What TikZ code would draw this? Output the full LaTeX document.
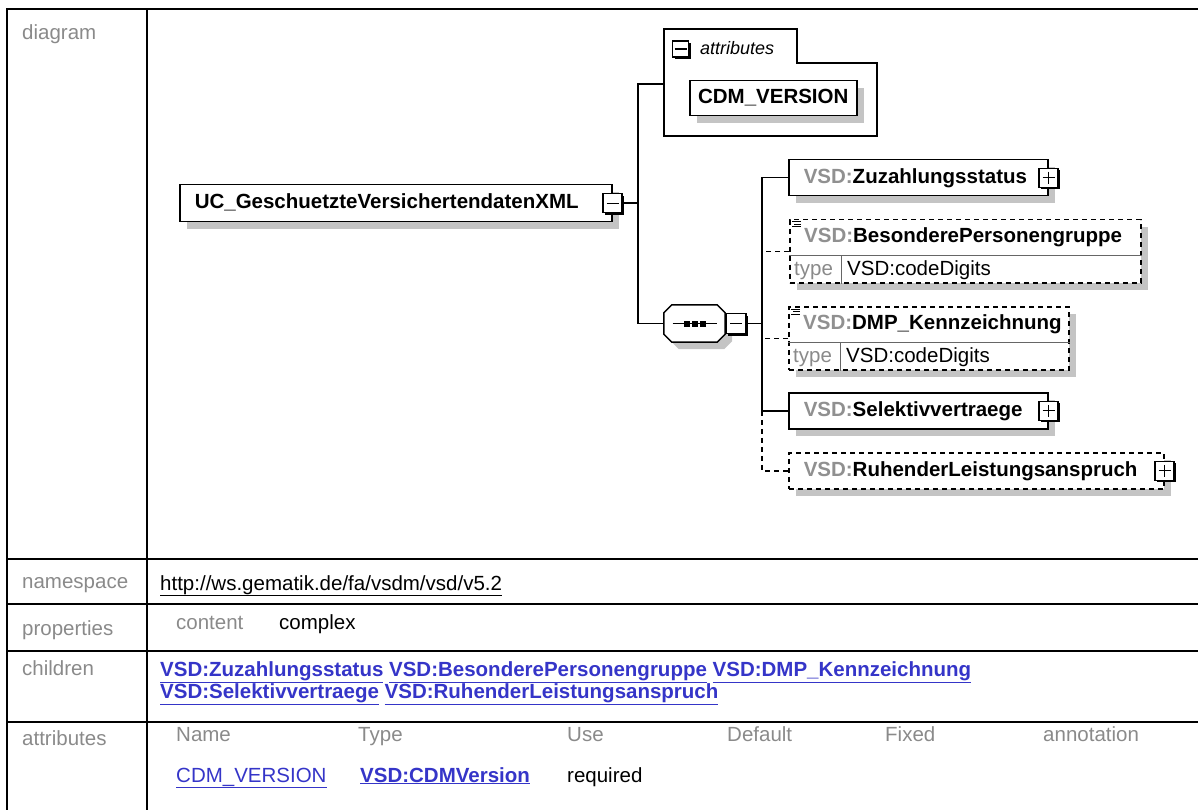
\documentclass[tikz,border=0pt]{standalone}
\usepackage{fontspec}
\setmainfont{Liberation Sans}
\usetikzlibrary{calc,shadows}

\definecolor{lblgray}{HTML}{8A8A8A}
\definecolor{nsgray}{HTML}{909090}
\definecolor{linkblue}{HTML}{3535C8}
\definecolor{shadegray}{HTML}{C4C4C4}

\newcommand{\diagfont}{\fontsize{20.5}{24}\selectfont\bfseries}
\newcommand{\tabfont}{\fontsize{20.5}{24}\selectfont}
\newcommand{\vsd}{\textcolor{nsgray}{VSD:}}
\newcommand{\blink}[1]{\textcolor{linkblue}{\bfseries\underline{#1}}}

\tikzset{
  elem/.style={draw, line width=1.5pt, fill=white, anchor=north west, inner sep=0pt,
    text height=15pt, text depth=4pt,
    font=\diagfont, drop shadow={shadow xshift=7pt, shadow yshift=-7pt, fill=shadegray, opacity=1}},
  optelem/.style={elem, dash pattern=on 5pt off 4pt},
  conn/.style={line width=1.5pt},
  optconn/.style={line width=1.5pt, dash pattern=on 5pt off 4pt},
  pmbox/.style={draw, fill=white, line width=1.2pt, minimum size=19pt, inner sep=0pt,
    drop shadow={shadow xshift=2pt, shadow yshift=-2pt, fill=black, opacity=1}},
  minusbox/.style={pmbox, path picture={
    \draw[line width=1.2pt] ($(path picture bounding box.center)+(-6,0)$) -- ($(path picture bounding box.center)+(6,0)$);}},
  plusbox/.style={pmbox, path picture={
    \draw[line width=1.2pt] ($(path picture bounding box.center)+(-6,0)$) -- ($(path picture bounding box.center)+(6,0)$)
      ($(path picture bounding box.center)+(0,-6)$) -- ($(path picture bounding box.center)+(0,6)$);}},
  rowlabel/.style={anchor=base west, font=\tabfont, text=lblgray, inner sep=0pt},
  cell/.style={anchor=base west, font=\tabfont, inner sep=0pt},
  tabline/.style={line width=2.2pt},
  sepline/.style={line width=1pt, draw=black!60},
}

\begin{document}
\begin{tikzpicture}[x=1pt, y=-1pt]
\useasboundingbox (0,0) rectangle (1198,810);

% table frame
\draw[tabline] (1198,9) -- (7,9) -- (7,810);
\draw[tabline] (147,9) -- (147,810);
\draw[tabline] (7,559) -- (1198,559);
\draw[tabline] (7,604) -- (1198,604);
\draw[tabline] (7,651) -- (1198,651);
\draw[tabline] (7,722) -- (1198,722);

\node[rowlabel] (lbldiag) at (22,40) {diagram};
\node[rowlabel] (lblns) at (22,588) {namespace};
\node[rowlabel] (lblprop) at (22,635) {properties};
\node[rowlabel] (lblchild) at (22,675) {children};
\node[rowlabel] (lblattr) at (22,745) {attributes};

% diagram
\node[elem, minimum height=37pt, text width=402pt, inner xsep=15pt, align=left] (root) at (179,184) {UC\_GeschuetzteVersichertendatenXML};
\node[minusbox] (rootpm) at (root.east) {};

\draw[line width=1.5pt] (664,136) -- (664,29) -- (797,29) -- (797,63) -- (877,63) -- (877,136) -- cycle;
\coordinate (attrin) at (664,84);
\node[minusbox, minimum size=16pt] (attrpm) at (680.5,49) {};
\node[anchor=west, font=\fontsize{18}{20}\selectfont\itshape, inner sep=0pt] (attrlbl) at (700,48) {attributes};
\node[elem, minimum width=167pt, minimum height=35pt] (cdm) at (689,80) {CDM\_VERSION};

% sequence compositor
\node[minimum width=61pt, minimum height=37pt, inner sep=0pt] (seq) at (694.5,323.5) {};
\draw[line width=1.5pt, fill=white, drop shadow={shadow xshift=7pt, shadow yshift=-7pt, fill=shadegray, opacity=1}]
  ($(seq.north west)+(0,8)$) -- ($(seq.north west)+(8,0)$) -- ($(seq.north east)+(-8,0)$) -- ($(seq.north east)+(0,8)$)
  -- ($(seq.south east)+(0,-8)$) -- ($(seq.south east)+(-8,0)$) -- ($(seq.south west)+(8,0)$) -- ($(seq.south west)+(0,-8)$) -- cycle;
\draw[line width=1.2pt] ($(seq.center)+(-22,0)$) -- ($(seq.center)+(22,0)$);
\foreach \dx in {-8,0,8}
  \fill ($(seq.center)+(\dx-3,-3)$) rectangle ($(seq.center)+(\dx+3,3)$);
\node[minusbox, minimum size=20pt] (seqpm) at (736,323.5) {};

\node[elem, minimum height=36pt, text width=229pt, inner xsep=15pt, align=left] (zuz) at (788,159) {\vsd Zuzahlungsstatus};
\node[plusbox] (zuzpm) at (zuz.east) {};

\node[optelem, minimum width=351pt, minimum height=63pt] (bes) at (789,219) {};
\node[anchor=west, font=\diagfont, inner sep=0pt] (besname) at ($(bes.north west)+(15,18)$) {\vsd BesonderePersonengruppe};
\draw[sepline] ($(bes.north west)+(0,36)$) -- ($(bes.north east)+(0,36)$);
\draw[sepline] ($(bes.north west)+(52,36)$) -- ($(bes.south west)+(52,0)$);
\node[anchor=west, font=\tabfont, text=lblgray, inner sep=0pt] (bestype) at ($(bes.south west)+(5,-13)$) {type};
\node[anchor=west, font=\tabfont, inner sep=0pt] (besval) at ($(bes.south west)+(58,-13)$) {VSD:codeDigits};
\draw[line width=1pt] ($(bes.north west)+(3,3)$) -- +(9,0) ($(bes.north west)+(5,5.5)$) -- +(7,0) ($(bes.north west)+(3,8)$) -- +(9,0);

\node[optelem, minimum width=280pt, minimum height=63pt] (dmp) at (788,306) {};
\node[anchor=west, font=\diagfont, inner sep=0pt] (dmpname) at ($(dmp.north west)+(15,18)$) {\vsd DMP\_Kennzeichnung};
\draw[sepline] ($(dmp.north west)+(0,36)$) -- ($(dmp.north east)+(0,36)$);
\draw[sepline] ($(dmp.north west)+(52,36)$) -- ($(dmp.south west)+(52,0)$);
\node[anchor=west, font=\tabfont, text=lblgray, inner sep=0pt] (dmptype) at ($(dmp.south west)+(5,-13)$) {type};
\node[anchor=west, font=\tabfont, inner sep=0pt] (dmpval) at ($(dmp.south west)+(58,-13)$) {VSD:codeDigits};
\draw[line width=1pt] ($(dmp.north west)+(3,3)$) -- +(9,0) ($(dmp.north west)+(5,5.5)$) -- +(7,0) ($(dmp.north west)+(3,8)$) -- +(9,0);

\node[elem, minimum height=36pt, text width=229pt, inner xsep=15pt, align=left] (sel) at (788,392) {\vsd Selektivvertraege};
\node[plusbox] (selpm) at (sel.east) {};

\node[optelem, minimum height=36pt, text width=345pt, inner xsep=15pt, align=left] (ruh) at (788,452) {\vsd RuhenderLeistungsanspruch};
\node[plusbox] (ruhpm) at (ruh.east) {};

% connectors
\draw[conn] (attrin) -- ++(-26,0) coordinate (b1top) -- (b1top |- seq.west) -- (seq.west);
\draw[conn] (rootpm.east) -- (rootpm.east -| b1top);
\draw[conn] (zuz.west) -- ++(-26,0) coordinate (b2top) -- (b2top |- sel.west) -- (sel.west);
\draw[conn] (seqpm.east) -- (seqpm.east -| b2top);
\draw[optconn] (bes.west) -- (bes.west -| b2top);
\draw[optconn] (dmp.west) -- (dmp.west -| b2top);
\draw[optconn] (b2top |- sel.west) |- (ruh.west);

% table rows
\node[cell] (nsval) at (160,590) {\underline{http://ws.gematik.de/fa/vsdm/vsd/v5.2}};
\node[cell, text=lblgray] (propkey) at (176,629) {content};
\node[cell] (propval) at (279,629) {complex};
\node[cell] (childa) at (160,676) {\blink{VSD:Zuzahlungsstatus} \blink{VSD:BesonderePersonengruppe} \blink{VSD:DMP\_Kennzeichnung}};
\node[cell] (childb) at (160,698) {\blink{VSD:Selektivvertraege} \blink{VSD:RuhenderLeistungsanspruch}};

\node[cell, text=lblgray] (hname) at (176,741) {Name};
\node[cell, text=lblgray] (htype) at (358,741) {Type};
\node[cell, text=lblgray] (huse) at (567,741) {Use};
\node[cell, text=lblgray] (hdef) at (727,741) {Default};
\node[cell, text=lblgray] (hfix) at (885,741) {Fixed};
\node[cell, text=lblgray] (hann) at (1043,741) {annotation};
\node[cell, text=linkblue] (aname) at (176,782) {\underline{CDM\_VERSION}};
\node[cell] (atype) at (360,782) {\blink{VSD:CDMVersion}};
\node[cell] (ause) at (567,782) {required};
\end{tikzpicture}
\end{document}
